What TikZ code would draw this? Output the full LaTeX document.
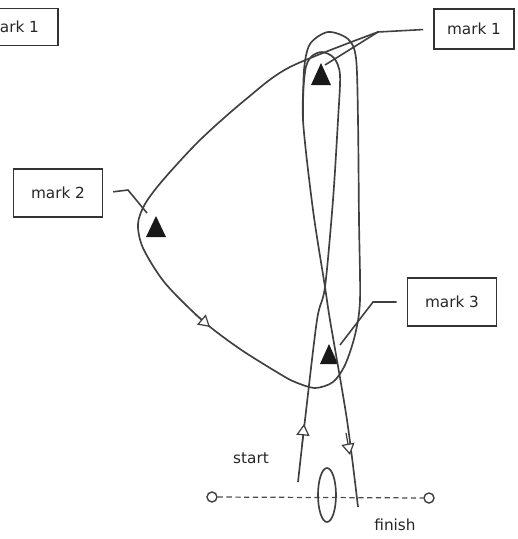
\documentclass[tikz,border=0pt]{standalone}
\usepackage{fontspec}
\setmainfont{DejaVu Sans}
\usetikzlibrary{arrows.meta}

\begin{document}
\begin{tikzpicture}[x=0.02cm, y=-0.02cm,
  course/.style={line width=0.95pt, black!75},
  markbox/.style={draw, line width=0.9pt, black!80, text=black!85,
    minimum width=1.78cm, minimum height=0.96cm, font=\fontsize{8.7}{10}\selectfont},
  pointer/.style={line width=0.9pt, black!75, shorten <=0.2cm},
  buoy/.style={fill=black!90},
  heading/.style={line width=0.7pt, black!75,
    -{Triangle[fill=white, length=6.5pt, width=7.5pt]}},
  label/.style={black!85, font=\fontsize{8.7}{10}\selectfont}
  ]
  \clip (0,0) rectangle (518,539);

  % Boxes
  \node[markbox, minimum width=1.84cm, minimum height=0.74cm] (m1a) at (12,27) {mark 1};
  \node[markbox, minimum width=1.6cm, minimum height=0.8cm] (m1b) at (474,29) {mark 1};
  \node[markbox] (m2) at (58,193) {mark 2};
  \node[markbox] (m3) at (452,302) {mark 3};

  % Marks
  \fill[buoy] (321,63) -- (331,85) -- (311,85) -- cycle;
  \fill[buoy] (156,216) -- (166,237) -- (146,237) -- cycle;
  \fill[buoy] (329,344) -- (338,364) -- (320,364) -- cycle;
  \coordinate (t1) at (325,65);
  \coordinate (t2) at (147,213);
  \coordinate (t3) at (340,345);
  \coordinate (b1) at (378,32);
  \coordinate (b2) at (128,190);
  \coordinate (b3) at (373,302);

  % Pointers
  \draw[pointer] (m1b.west) -- (b1) -- (t1);
  \draw[pointer] (m2.east) -- (b2) -- (t2);
  \draw[pointer] (m3.west) -- (b3) -- (t3);

  % Start leg, mark 1, finish leg
  \draw[course] plot[smooth, tension=0.5] coordinates {(298,482) (305,420) (317,320)
    (325,287) (333,200) (338,120) (340,75) (334,58) (322,52) (311,57) (305,72)
    (303,120) (313,210) (325,287) (330,320) (347,420) (358,507)};

  % Round the course
  \draw[course] plot[smooth, tension=0.5] coordinates {(303,120) (304,70) (310,44)
    (328,32) (348,39) (356,58) (358,120) (359,220) (360,300) (355,335) (345,365)
    (333,382) (315,388) (295,382) (280,374) (240,349) (203,321) (165,283)
    (143,248) (138,224) (145,204) (163,180) (200,140) (245,100) (290,67) (b1)};

  % Headings
  \draw[heading] (302,446) -- (304,424);
  \draw[heading] (346,433) -- (350,455);
  \draw[heading] (195,314) -- (210,327);

  % Start line
  \node[draw, circle, line width=0.8pt, black!75, minimum size=0.2cm, inner sep=0pt] (pin) at (212,497) {};
  \node[draw, circle, line width=0.8pt, black!75, minimum size=0.2cm, inner sep=0pt] (boat) at (429,498) {};
  \draw[black!70, line width=0.7pt, densely dashed] (pin) -- (boat);
  \draw[course] (327,495) ellipse (9 and 27);

  \node[label] (st) at (251,458) {start};
  \node[label] (fi) at (395,525) {finish};
\end{tikzpicture}
\end{document}
